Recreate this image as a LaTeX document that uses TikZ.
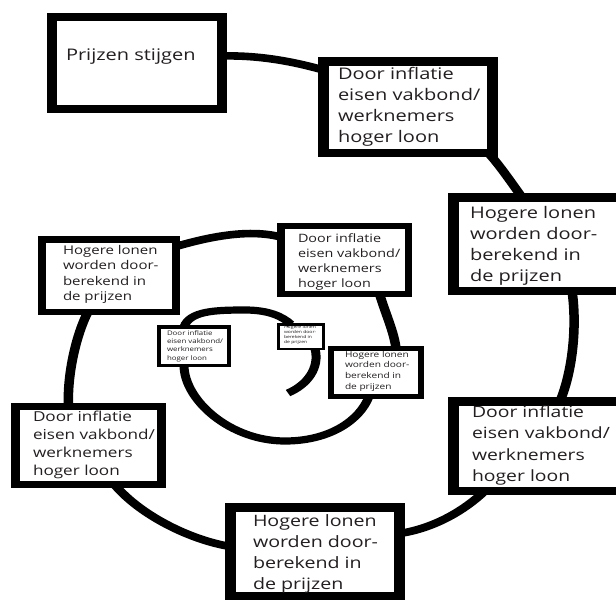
\documentclass[tikz,border=0pt]{standalone}
\usepackage{fontspec}
\setmainfont{Open Sans}
\usetikzlibrary{calc}
\definecolor{ink}{HTML}{231F20}
\tikzset{
  boxst/.style={draw=black, fill=white, rectangle, inner sep=0pt, outer sep=0pt},
  txt/.style={inner sep=0pt, outer sep=0pt, text=ink, anchor=base west},
  wire/.style={draw=black, line width=7.6pt},
  iwire/.style={draw=black, line width=7.2pt}
}
% name, x0, y0, x1, y1 (outer edges, page px), stroke
\newcommand\mkbox[6]{%
  \node[boxst, line width=#6pt, minimum width={(#4-#2)*0.8-#6}, minimum height={#5-#3-#6}]
    (#1) at ({(#2+#4)/2},{(#3+#5)/2}) {};}
\newcommand\bt[3]{\fontsize{#1}{#2}\selectfont\begin{tabular}[t]{@{}l@{}}#3\end{tabular}}
\begin{document}
\begin{tikzpicture}[x=1pt,y=-1pt]
\useasboundingbox (0,0) rectangle (616,600);
\fill[white] (0,0) rectangle (616,600);
\begin{scope}[transform canvas={xscale=1.25}, x=0.8pt, y=-1pt]
  % boxes
  \mkbox{b1}{47}{13}{227}{113}{8}
  \mkbox{b2}{318}{57}{498}{157}{8.5}
  \mkbox{b3}{448}{193}{632}{295}{8.5}
  \mkbox{b4}{448}{397}{632}{495}{8.5}
  \mkbox{b5}{225}{503}{405}{600}{8.5}
  \mkbox{b6}{11}{403}{166}{488}{7}
  \mkbox{b7}{38}{236}{180}{315}{6.5}
  \mkbox{b8}{277}{223}{412}{297}{6}
  \mkbox{b9}{328}{346}{424}{399}{5}
  \mkbox{b10}{157}{325}{231}{367}{3.5}
  \mkbox{b11}{277}{323}{325}{350}{2.5}
  % texts
  \node[txt] (t1) at (66,60) {\bt{16}{19}{Prijzen stijgen}};
  \node[txt] (t2) at (338,79) {\bt{16}{21.3}{Door inflatie\\eisen vakbond/\\werknemers\\hoger loon}};
  \node[txt] (t3) at (470,218) {\bt{16}{21.3}{Hogere lonen\\worden door-\\berekend in\\de prijzen}};
  \node[txt] (t4) at (472,417) {\bt{15.5}{21.5}{Door inflatie\\eisen vakbond/\\werknemers\\hoger loon}};
  \node[txt] (t5) at (253,526) {\bt{15.7}{21}{Hogere lonen\\worden door-\\berekend in\\de prijzen}};
  \node[txt] (t6) at (33,421) {\bt{13.7}{18.3}{Door inflatie\\eisen vakbond/\\werknemers\\hoger loon}};
  \node[txt] (t7) at (63,254) {\bt{12}{15.6}{Hogere lonen\\worden door-\\berekend in\\de prijzen}};
  \node[txt] (t8) at (298,242) {\bt{11.5}{15}{Door inflatie\\eisen vakbond/\\werknemers\\hoger loon}};
  \node[txt] (t9) at (345,357) {\bt{8.1}{10.7}{Hogere lonen\\worden door-\\berekend in\\de prijzen}};
  \node[txt] (t10) at (167,335) {\bt{6.3}{8.4}{Door inflatie\\eisen vakbond/\\werknemers\\hoger loon}};
  \node[txt] (t11) at (284,328) {\bt{4.05}{5.3}{Hogere lonen\\worden door-\\berekend in\\de prijzen}};
  \coordinate (tail) at (288,393);
  % spiral connectors
  \draw[wire] ($(b1.east)+(0,-7)$) .. controls (260,55) and (295,62) .. ($(b2.west)+(0,-37)$);
  \draw[wire] ($(b2.south)+(80,0)$) .. controls (498,163) and (511,182) .. ($(b3.north)+(-18,0)$);
  \draw[wire] ($(b3.south)+(32,0)$) .. controls (577,325) and (573,370) .. ($(b4.north)+(20,0)$);
  \draw[wire] ($(b4.south)+(-55,0)$) .. controls (465,510) and (435,528) .. ($(b5.east)+(0,-18)$);
  \draw[wire] ($(b5.west)+(0,-5)$) .. controls (190,540) and (140,515) .. ($(b6.south)+(26,0)$);
  \draw[wire] ($(b6.north)+(-20,0)$) .. controls (67,375) and (76,335) .. ($(b7.south)+(-21,0)$);
  \draw[wire] ($(b7.east)+(0,-29)$) .. controls (212,236) and (250,229) .. ($(b8.west)+(0,-23)$);
  \draw[wire] ($(b8.south)+(35,0)$) .. controls (386,315) and (394,332) .. ($(b9.north)+(20,0)$);
  \draw[iwire] ($(b9.south)+(-7,0)$) .. controls (360,420) and (330,441) .. (285,441)
     .. controls (230,441) and (184,400) .. ($(b10.south)+(-10,0)$);
  \draw[iwire] ($(b10.north)+(-10,0)$) .. controls (190,311) and (215,310) .. (245,310)
     .. controls (268,310) and (282,316) .. ($(b11.north)+(-10,0)$);
  \draw[iwire] ($(b11.south)+(14,0)$) .. controls (320,368) and (307,385) .. (tail);
\end{scope}
\end{tikzpicture}
\end{document}
